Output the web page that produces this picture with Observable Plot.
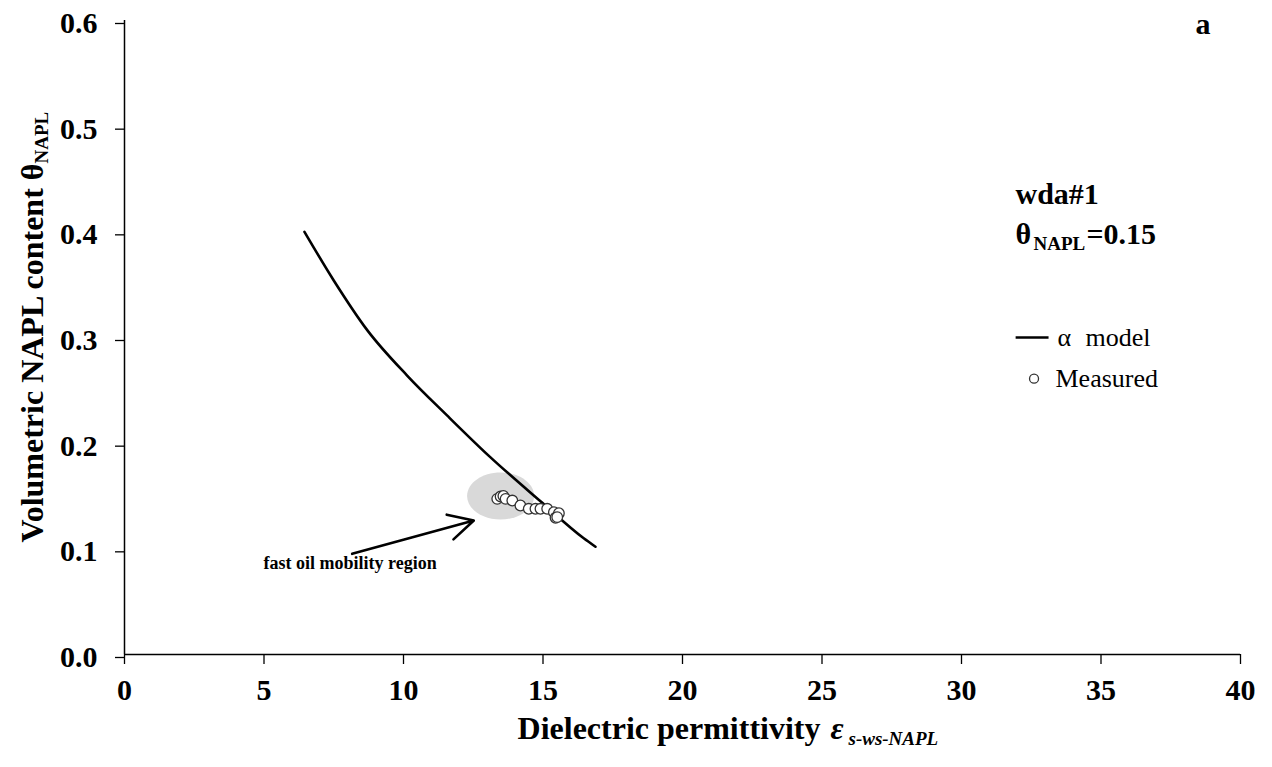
<!DOCTYPE html>
<html><head><meta charset="utf-8">
<script src="https://cdn.jsdelivr.net/npm/d3@7"></script>
<script src="https://cdn.jsdelivr.net/npm/@observablehq/plot@0.6"></script>
<style>body{margin:0;background:#fff}</style>
</head><body><div id="chart"></div>
<script>
// alpha model curve
const modelEps   = [6.45, 7.50, 8.70, 10.13, 11.57, 13.06, 14.91, 16.46, 16.88];
const modelTheta = [0.400, 0.354, 0.307, 0.264, 0.226, 0.188, 0.145, 0.110, 0.102];
// measured points
const measEps   = [13.36, 13.48, 13.58, 13.66, 13.90, 14.19, 14.49, 14.73, 14.91, 15.15, 15.39, 15.57, 15.45, 15.51];
const measTheta = [0.1473, 0.1495, 0.1500, 0.1473, 0.1457, 0.1410, 0.1379, 0.1379, 0.1379, 0.1379, 0.1347, 0.1337, 0.1294, 0.1300];
// highlighted region (centre)
const regionEps = [13.48];
const regionTheta = [0.150];
// annotation arrow
const arrowFrom = [8.16, 0.0953];
const arrowTo = [12.52, 0.1268];
const xTicks = [0, 5, 10, 15, 20, 25, 30, 35, 40];
const yTicks = [0, 0.1, 0.2, 0.3, 0.4, 0.5, 0.6];

const model = modelEps.map((e, i) => ({eps: e, theta: modelTheta[i]}));
const measured = measEps.map((e, i) => ({eps: e, theta: measTheta[i]}));
const region = regionEps.map((e, i) => ({eps: e, theta: regionTheta[i]}));

const ML = 124, MT = 20;
const ellipseSymbol = {
  draw(ctx) {
    const rx = 33.5, ry = 23.5, k = 0.5523;
    ctx.moveTo(rx, 0);
    ctx.bezierCurveTo(rx, ry * k, rx * k, ry, 0, ry);
    ctx.bezierCurveTo(-rx * k, ry, -rx, ry * k, -rx, 0);
    ctx.bezierCurveTo(-rx, -ry * k, -rx * k, -ry, 0, -ry);
    ctx.bezierCurveTo(rx * k, -ry, rx, -ry * k, rx, 0);
    ctx.closePath();
  }
};
function label(str, px, py, opts = {}) {
  return Plot.text([str], Object.assign({
    frameAnchor: "top-left", dx: px - ML, dy: py - MT,
    textAnchor: "start", lineAnchor: "bottom", fill: "black"
  }, opts));
}

const chart = Plot.plot({
  width: 1272, height: 767,
  marginLeft: ML, marginRight: 32, marginTop: MT, marginBottom: 113,
  x: {domain: [0, 40]},
  y: {domain: [0, 0.6]},
  style: {fontFamily: "'Liberation Serif', 'Times New Roman', serif", fontSize: "30px", fontWeight: "bold", background: "white", color: "black", overflow: "visible"},
  marks: [
    Plot.axisX({ticks: xTicks, tickSize: 10, tickPadding: 14, label: null, fontSize: 30, fontWeight: "bold", strokeWidth: 1.3, tickFormat: d3.format("d")}),
    Plot.axisY({ticks: yTicks, tickSize: 9, tickPadding: 18, label: null, fontSize: 30, fontWeight: "bold", strokeWidth: 1.3, tickFormat: d3.format(".1f"), dy: 3}),
    Plot.ruleX([0], {stroke: "black", strokeWidth: 1.5}),
    Plot.ruleY([0], {stroke: "black", strokeWidth: 1.5}),
    Plot.dot(region, {x: "eps", y: "theta", symbol: ellipseSymbol, r: 10, fill: "#d9d9d9", stroke: null}),
    Plot.line(model, {x: "eps", y: "theta", stroke: "black", strokeWidth: 2.6, curve: "monotone-x"}),
    Plot.dot(measured, {x: "eps", y: "theta", r: 5.3, fill: "white", stroke: "#333", strokeWidth: 1.3}),
    Plot.arrow([{x1: arrowFrom[0], y1: arrowFrom[1], x2: arrowTo[0], y2: arrowTo[1]}],
      {x1: "x1", y1: "y1", x2: "x2", y2: "y2", stroke: "black", strokeWidth: 2.6, headLength: 16, headAngle: 55}),
    label("fast oil mobility region", 263, 568, {fontSize: 18}),
    // panel letter and sample info
    label("a", 1195, 33, {fontSize: 30}),
    label("wda#1", 1015, 203, {fontSize: 30}),
    label("θ", 1015, 243, {fontSize: 30}),
    label("NAPL", 1033, 249, {fontSize: 19}),
    label("=0.15", 1086, 243, {fontSize: 30}),
    // legend
    Plot.link([0], {x1: () => 31.94, x2: () => 33.12, y1: () => 0.3, y2: () => 0.3, stroke: "black", strokeWidth: 2.6}),
    label("α", 1057, 345, {fontSize: 26, fontWeight: "normal"}),
    label("model", 1085, 345, {fontSize: 26, fontWeight: "normal"}),
    Plot.dot([0], {x: () => 32.6, y: () => 0.261, r: 4.5, fill: "white", stroke: "#333", strokeWidth: 1.3}),
    label("Measured", 1055, 386, {fontSize: 26, fontWeight: "normal"}),
    // x axis title
    label("Dielectric permittivity", 820, 738, {fontSize: 32, textAnchor: "end"}),
    label("ε", 830, 738, {fontSize: 32, fontStyle: "italic"}),
    label("s-ws-NAPL", 848, 744, {fontSize: 19, fontStyle: "italic"}),
    // y axis title
    label("Volumetric NAPL content θ", 42, 163, {fontSize: 32, textAnchor: "end", rotate: -90}),
    label("NAPL", 47, 163, {fontSize: 19, textAnchor: "start", rotate: -90})
  ]
});
document.getElementById("chart").appendChild(chart);
</script>
</body></html>
